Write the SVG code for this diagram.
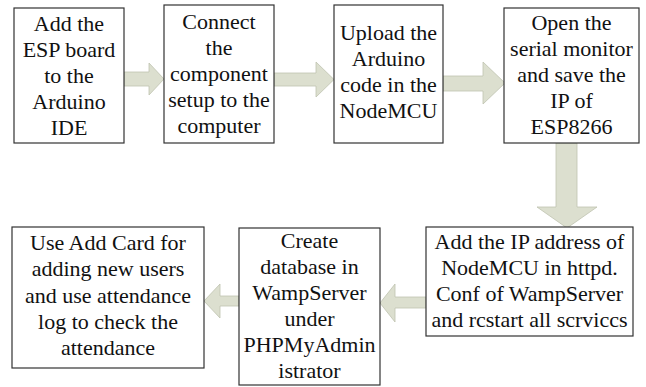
<svg xmlns="http://www.w3.org/2000/svg" width="646" height="387" viewBox="0 0 646 387" font-family="Liberation Serif, Times New Roman, serif">
<style>
.box{fill:#fff;stroke:#333;stroke-width:1.2}
.arr{fill:#dcdfcf;stroke:#bfc3b0;stroke-width:0.8}
.t{font-size:22px;fill:#111;text-anchor:middle}
</style>
<rect width="646" height="387" fill="#fff"/>
<g id="connectors">
<polygon class="arr" points="124,72 149,72 149,63 164,79 149,95 149,86 124,86"/>
<polygon class="arr" points="274,73 316,73 316,62 334,79.5 316,97 316,86 274,86"/>
<polygon class="arr" points="443,76 483,76 483,62 505,83 483,104 483,91 443,91"/>
<polygon class="arr" points="556,143 556,207 537,207 567,228 597,207 577,207 577,143"/>
<polygon class="arr" points="426,297 395,297 395,284 380,303 395,322 395,308 426,308"/>
<polygon class="arr" points="239,296 220,296 220,284 204,301 220,318 220,306 239,306"/>
</g>
<g id="n1" class="t">
<rect class="box" x="14" y="8" width="110" height="135"/>
<text x="69" y="31">Add the</text>
<text x="69" y="57">ESP board</text>
<text x="69" y="83">to the</text>
<text x="69" y="109">Arduino</text>
<text x="69" y="135">IDE</text>
</g>
<g id="n2" class="t">
<rect class="box" x="164" y="5" width="110" height="138"/>
<text x="219" y="29">Connect</text>
<text x="219" y="55">the</text>
<text x="219" y="81">component</text>
<text x="219" y="107">setup to the</text>
<text x="219" y="133">computer</text>
</g>
<g id="n3" class="t">
<rect class="box" x="334" y="5" width="109" height="138"/>
<text x="388.5" y="40">Upload the</text>
<text x="388.5" y="66">Arduino</text>
<text x="388.5" y="92">code in the</text>
<text x="388.5" y="118">NodeMCU</text>
</g>
<g id="n4" class="t">
<rect class="box" x="504" y="8" width="135" height="135"/>
<text x="571.5" y="30">Open the</text>
<text x="571.5" y="56">serial monitor</text>
<text x="571.5" y="82">and save the</text>
<text x="571.5" y="108">IP of</text>
<text x="571.5" y="134">ESP8266</text>
</g>
<g id="n5" class="t">
<rect class="box" x="426" y="227" width="207" height="109"/>
<text x="529.5" y="249">Add the IP address of</text>
<text x="529.5" y="275">NodeMCU in httpd.</text>
<text x="529.5" y="301">Conf of WampServer</text>
<text x="529.5" y="327">and rcstart all scrviccs</text>
</g>
<g id="n6" class="t">
<rect class="box" x="239" y="228" width="141" height="157"/>
<text x="309.5" y="248">Create</text>
<text x="309.5" y="274">database in</text>
<text x="309.5" y="300">WampServer</text>
<text x="309.5" y="326">under</text>
<text x="309.5" y="352">PHPMyAdmin</text>
<text x="309.5" y="378">istrator</text>
</g>
<g id="n7" class="t">
<rect class="box" x="12" y="227" width="192" height="141"/>
<text x="108" y="250">Use Add Card for</text>
<text x="108" y="276">adding new users</text>
<text x="108" y="303">and use attendance</text>
<text x="108" y="329">log to check the</text>
<text x="108" y="355">attendance</text>
</g>
</svg>
